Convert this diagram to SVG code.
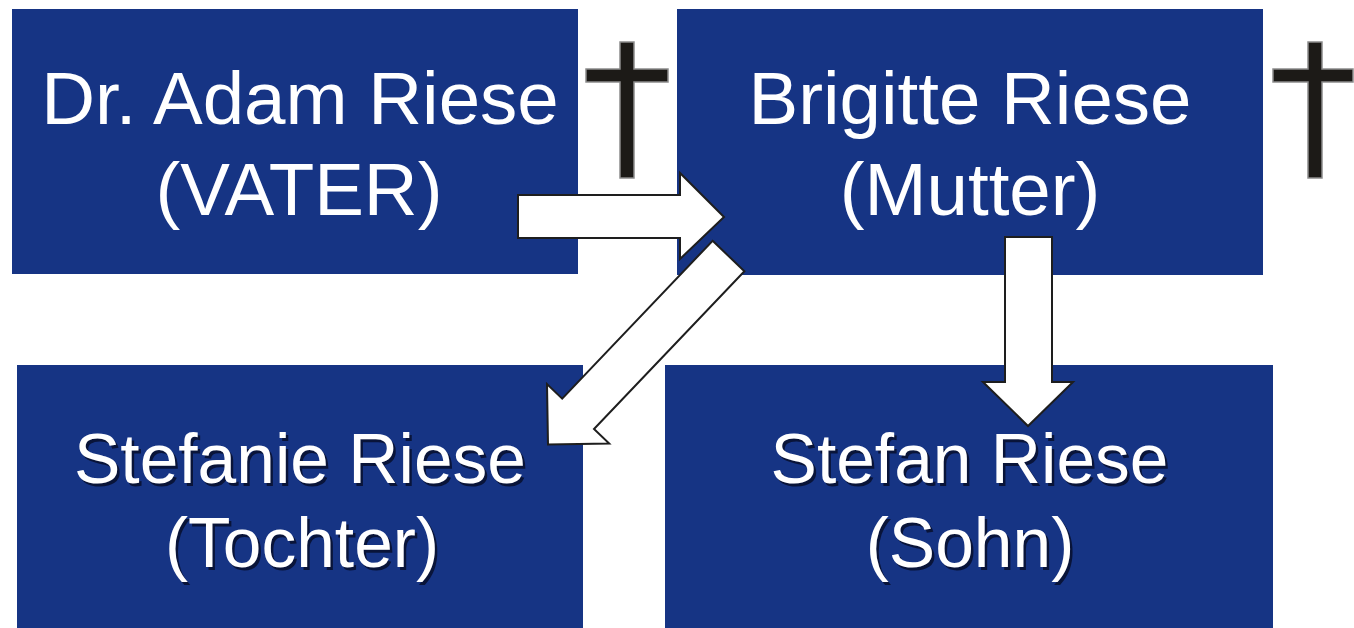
<svg xmlns="http://www.w3.org/2000/svg" width="1354" height="628" viewBox="0 0 1354 628">
  <style>
    .box { fill: #163484; }
    .t1 { font-family: "Liberation Sans", Arial, sans-serif; font-size: 74.5px; fill: #ffffff; text-anchor: middle; }
    .t2 { font-family: "Liberation Sans", Arial, sans-serif; font-size: 69.5px; fill: #ffffff; text-anchor: middle; }
    .sh { fill: #050a20; fill-opacity: 0.75; }
    .arrow { fill: #ffffff; stroke: #1e1e1e; stroke-width: 2; stroke-linejoin: miter; }
    .cross { fill: #1c1a17; stroke: #8c8c8c; stroke-width: 1.5; }
  </style>
  <rect width="1354" height="628" fill="#ffffff"/>

  <g id="node-vater">
    <rect class="box" x="12" y="9" width="566" height="265"/>
    <text class="t1" x="300" y="124">Dr. Adam Riese</text>
    <text class="t1" x="299" y="215">(VATER)</text>
  </g>

  <g id="node-mutter">
    <rect class="box" x="677" y="9" width="586" height="266"/>
    <text class="t1" x="970" y="124">Brigitte Riese</text>
    <text class="t1" x="970" y="215">(Mutter)</text>
  </g>

  <g id="node-tochter">
    <rect class="box" x="17" y="365" width="566" height="263"/>
    <text class="t2 sh" x="302.5" y="485.5">Stefanie Riese</text>
    <text class="t2 sh" x="304.5" y="569.5">(Tochter)</text>
    <text class="t2" x="300" y="483">Stefanie Riese</text>
    <text class="t2" x="302" y="567">(Tochter)</text>
  </g>

  <g id="node-sohn">
    <rect class="box" x="665" y="365" width="608" height="263"/>
    <text class="t2 sh" x="972" y="485.5">Stefan Riese</text>
    <text class="t2 sh" x="972.5" y="569.5">(Sohn)</text>
    <text class="t2" x="969.5" y="483">Stefan Riese</text>
    <text class="t2" x="970" y="567">(Sohn)</text>
  </g>

  <g id="cross-vater">
    <path class="cross" d="M620,42 H634 V69 H668 V82 H634 V178 H620 V82 H586 V69 H620 Z"/>
  </g>
  <g id="cross-mutter">
    <path class="cross" d="M1308,42 H1322 V69 H1353 V82 H1322 V178 H1308 V82 H1273 V69 H1308 Z"/>
  </g>

  <g id="connectors">
    <polygon class="arrow" points="518,195 680,195 680,173 724,217 680,259 680,238 518,238"/>
    <polygon class="arrow" points="712.6,240.8 744.4,271.2 594,429 609.2,443.5 548,444.5 547,384.1 562.2,398.6"/>
    <polygon class="arrow" points="1005,237 1052,237 1052,382 1073,382 1028,426 983,382 1005,382"/>
  </g>
</svg>
